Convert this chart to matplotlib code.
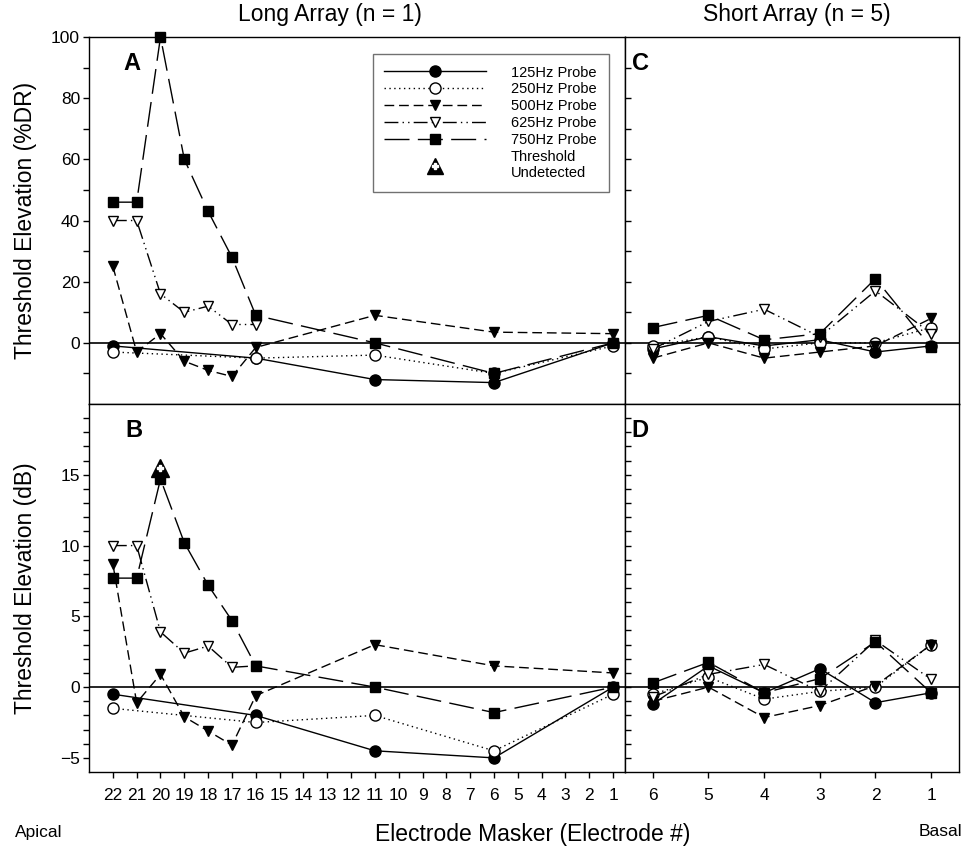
import matplotlib
matplotlib.use('Agg')
import matplotlib.pyplot as plt
from matplotlib.lines import Line2D
from matplotlib.ticker import FixedLocator

plt.rcParams['font.family'] = ['Liberation Sans', 'DejaVu Sans']

# electrode positions
long_all = [22, 21, 20, 19, 18, 17, 16, 11, 6, 1]
long_few = [22, 16, 11, 6, 1]
long_apical = [22, 21, 20, 19, 18, 17, 16]
short_el = [6, 5, 4, 3, 2, 1]

# A: long array, %DR
a_125 = [-1, -5, -12, -13, 0]
a_250 = [-3, -5, -4, -10, -1]
a_500 = [25, -3, 3, -6, -9, -11, -1.5, 9, 3.5, 3]
a_625 = [40, 40, 16, 10, 12, 6, 6]
a_750 = [46, 46, 100, 60, 43, 28, 9, 0, -10, 0]

# B: long array, dB
b_125 = [-0.5, -2, -4.5, -5, 0]
b_250 = [-1.5, -2.5, -2, -4.5, -0.5]
b_500 = [8.7, -1.1, 0.9, -2.1, -3.1, -4.1, -0.6, 3, 1.5, 1]
b_625 = [10, 10, 3.9, 2.4, 2.9, 1.4, 1.5]
b_750 = [7.7, 7.7, 14.7, 10.2, 7.2, 4.7, 1.5, 0, -1.8, 0]
undetected_el = [20]
undetected_b = [15.5]

# C: short array, %DR
c_125 = [-2, 2, -1, 1, -3, -1]
c_250 = [-1, 2, -2, 0, 0, 5]
c_500 = [-5, 0, -5, -3, -1, 8]
c_625 = [-2, 7, 11, 2, 17, 3]
c_750 = [5, 9, 1, 3, 21, -1.5]

# D: short array, dB
d_125 = [-1.2, 1.5, -0.4, 1.3, -1.1, -0.4]
d_250 = [-0.5, 0.7, -0.85, -0.3, 0, 3]
d_500 = [-1, 0, -2.15, -1.3, 0.1, 3]
d_625 = [-0.7, 0.9, 1.6, -0.3, 3.3, 0.55]
d_750 = [0.3, 1.75, -0.4, 0.6, 3.2, -0.4]

probes = ['125', '250', '500', '625', '750']
labels = ['125Hz Probe', '250Hz Probe', '500Hz Probe', '625Hz Probe', '750Hz Probe']
line_styles = {'125': '-', '250': (0, (1, 2.5)), '500': (0, (7, 3.5)),
               '625': (0, (10, 3, 1, 3, 1, 3)), '750': (0, (18, 6))}
markers = {'125': 'o', '250': 'o', '500': 'v', '625': 'v', '750': 's'}
faces = {'125': 'black', '250': 'white', '500': 'black', '625': 'white', '750': 'black'}
sizes = {'125': 8, '250': 8, '500': 7.5, '625': 7.5, '750': 6.5}


def probe_line(p):
    return dict(color='black', lw=1.0, ls=line_styles[p], marker=markers[p], ms=sizes[p],
                mfc=faces[p], mec='black', mew=1.0)


def draw(ax, series):
    for p, (x, y) in zip(probes, series):
        ax.plot(x, y, clip_on=False, zorder=3, **probe_line(p))
    ax.axhline(0, color='black', lw=1.2, zorder=2)
    for s in ax.spines.values():
        s.set_linewidth(1.0)


fig = plt.figure(figsize=(9.72, 8.47), dpi=100)
axA = fig.add_axes([0.0916, 0.523, 0.5514, 0.4333])
axB = fig.add_axes([0.0916, 0.0885, 0.5514, 0.4345])
axC = fig.add_axes([0.643, 0.523, 0.3436, 0.4333])
axD = fig.add_axes([0.643, 0.0885, 0.3436, 0.4345])

draw(axA, [(long_few, a_125), (long_few, a_250), (long_all, a_500),
           (long_apical, a_625), (long_all, a_750)])
draw(axB, [(long_few, b_125), (long_few, b_250), (long_all, b_500),
           (long_apical, b_625), (long_all, b_750)])
draw(axC, [(short_el, c_125), (short_el, c_250), (short_el, c_500),
           (short_el, c_625), (short_el, c_750)])
draw(axD, [(short_el, d_125), (short_el, d_250), (short_el, d_500),
           (short_el, d_625), (short_el, d_750)])

# threshold undetected marker
axB.plot(undetected_el, undetected_b, ls='none', marker='^', ms=13, color='black', zorder=5, clip_on=False)
axB.plot(undetected_el, undetected_b, ls='none', marker='P', ms=5, color='white', zorder=6, clip_on=False)

for ax in (axA, axB):
    ax.set_xlim(23, 0.5)
for ax in (axC, axD):
    ax.set_xlim(6.5, 0.5)
for ax in (axA, axC):
    ax.set_ylim(-20, 100)
    ax.tick_params(axis='x', which='both', bottom=False, labelbottom=False)
for ax in (axB, axD):
    ax.set_ylim(-6, 20)

axA.set_yticks([0, 20, 40, 60, 80, 100])
axA.yaxis.set_minor_locator(FixedLocator([-10, 10, 30, 50, 70, 90]))
axB.set_yticks([-5, 0, 5, 10, 15])
axB.yaxis.set_minor_locator(FixedLocator(list(range(-5, 20))))
for ax in (axA, axB):
    ax.tick_params(axis='y', which='both', direction='out', length=4, width=1,
                   labelsize=12.5, pad=2.5)

axC.set_yticks(list(range(-10, 100, 10)))
axD.set_yticks(list(range(-5, 20)))
for ax in (axC, axD):
    ax.tick_params(axis='y', which='both', direction='in', length=4, width=1, labelleft=False)

axB.set_xticks(list(range(1, 23)))
axD.set_xticks(list(range(1, 7)))
for ax in (axB, axD):
    ax.tick_params(axis='x', direction='out', length=4.5, width=1, labelsize=12.5, pad=7)

axA.set_ylabel('Threshold Elevation (%DR)', fontsize=16.5)
axB.set_ylabel('Threshold Elevation (dB)', fontsize=16.5)
for ax in (axA, axB):
    ax.yaxis.set_label_coords(-0.098, 0.5)

for ax, letter, xp in ((axA, 'A', 0.080), (axB, 'B', 0.083), (axC, 'C', 0.045), (axD, 'D', 0.045)):
    ax.text(xp, 0.928, letter, transform=ax.transAxes, ha='center', va='center',
            fontsize=17, fontweight='bold')

# legend
handles = [Line2D([], [], **probe_line(p)) for p in probes]
handles.append((Line2D([], [], ls='none', marker='^', ms=12, color='black'),
                Line2D([], [], ls='none', marker='P', ms=4.5, color='white')))
leg = axA.legend(handles, labels + ['Threshold\nUndetected'], loc='upper left',
                 bbox_to_anchor=(0.529, 0.954), borderaxespad=0, fancybox=False,
                 edgecolor='0.3', fontsize=10.5, handlelength=7, handletextpad=1.7,
                 borderpad=0.8, labelspacing=0.2, numpoints=1)
leg.get_frame().set_linewidth(1.0)

fig.text(330 / 972, 1 - 15 / 847, 'Long Array (n = 1)', ha='center', va='center', fontsize=16.5)
fig.text(797 / 972, 1 - 15 / 847, 'Short Array (n = 5)', ha='center', va='center', fontsize=16.5)
fig.text(533 / 972, 1 - 834 / 847, 'Electrode Masker (Electrode #)', ha='center', va='center', fontsize=16.5)
fig.text(15 / 972, 1 - 832 / 847, 'Apical', ha='left', va='center', fontsize=12.5)
fig.text(962 / 972, 1 - 831 / 847, 'Basal', ha='right', va='center', fontsize=12.5)

plt.savefig('out.png', dpi=100)
plt.close()
